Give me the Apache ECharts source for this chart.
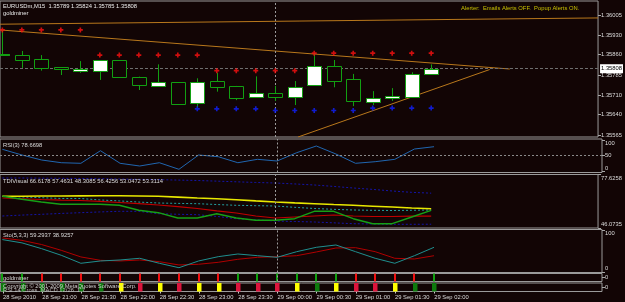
<!DOCTYPE html>
<html><head><meta charset="utf-8">
<script src="https://cdn.jsdelivr.net/npm/echarts@6/dist/echarts.min.js"></script>
<style>html,body{margin:0;padding:0;background:#120505;}#c{width:625px;height:302px;}</style>
</head><body><div id="c"></div>
<script>
// ---------- data ----------
const candleTimes = ['28 Sep 20:30','28 Sep 20:45','28 Sep 21:00','28 Sep 21:15','28 Sep 21:30','28 Sep 21:45','28 Sep 22:00','28 Sep 22:15','28 Sep 22:30','28 Sep 22:45','28 Sep 23:00','28 Sep 23:15','28 Sep 23:30','28 Sep 23:45','29 Sep 00:00','29 Sep 00:15','29 Sep 00:30','29 Sep 00:45','29 Sep 01:00','29 Sep 01:15','29 Sep 01:30','29 Sep 01:45','29 Sep 02:00'];
const timeTickIdx = [0,2,4,6,8,10,12,14,16,18,20,22];
const timeTickLabels = ['28 Sep 2010','28 Sep 21:00','28 Sep 21:30','28 Sep 22:00','28 Sep 22:30','28 Sep 23:00','28 Sep 23:30','29 Sep 00:00','29 Sep 00:30','29 Sep 01:00','29 Sep 01:30','29 Sep 02:00'];

const open  = [1.35860,1.35858,1.35844,1.35814,1.35800,1.35800,1.35839,1.35779,1.35746,1.35758,1.35681,1.35762,1.35745,1.35703,1.35718,1.35703,1.35747,1.35819,1.35770,1.35687,1.35702,1.35705,1.35789];
const high  = [1.35950,1.35873,1.35858,1.35814,1.35836,1.35840,1.35840,1.35779,1.35824,1.35758,1.35773,1.35793,1.35745,1.35780,1.35745,1.35763,1.35865,1.35840,1.35789,1.35726,1.35737,1.35795,1.35824];
const low   = [1.35858,1.35811,1.35801,1.35785,1.35793,1.35767,1.35774,1.35730,1.35746,1.35679,1.35668,1.35724,1.35693,1.35703,1.35690,1.35675,1.35747,1.35740,1.35671,1.35675,1.35690,1.35703,1.35785];
const close = [1.35862,1.35840,1.35811,1.35806,1.35807,1.35839,1.35777,1.35747,1.35758,1.35679,1.35758,1.35740,1.35701,1.35718,1.35703,1.35742,1.35817,1.35764,1.35689,1.35702,1.35709,1.35789,1.35808];

const upperDots = [1.35950,1.35950,1.35950,1.35950,1.35950,1.35858,1.35858,1.35858,1.35858,1.35858,1.35858,1.35801,1.35801,1.35801,1.35801,1.35801,1.35865,1.35865,1.35865,1.35865,1.35865,1.35865,1.35865];
const lowerDots = [null,null,null,null,null,null,null,null,null,null,1.35661,1.35661,1.35661,1.35661,1.35655,1.35655,1.35655,1.35655,1.35655,1.35664,1.35664,1.35664,1.35664];

const trendA = [[-0.121,1.35971],[30.56,1.35994]];
const trendB = [[-0.121,1.35950],[26.03,1.35807]];
const trendC = [[15.17,1.35558],[25.0,1.35805]];
const currentPrice = 1.35808;
const priceTicks = [1.36005,1.35930,1.35860,1.35785,1.35710,1.35640,1.35565];

const rsi = [70.4,52.2,36.3,27.7,25.8,65.9,25.8,17.2,27.7,6.7,52.2,46.8,27.7,38.5,33.1,59.6,80.9,55.4,25.8,30.9,38.5,71.3,78.67];

const tdiUpper  = [75.56,75.56,75.46,75.37,75.27,75.15,74.97,74.78,74.59,74.34,74.09,73.71,73.32,72.93,72.61,72.06,71.44,70.60,69.67,68.85,67.90,67.10,66.62];
const tdiYellow = [64.77,64.82,64.92,64.94,65.01,65.06,65.12,64.96,64.77,64.28,63.77,63.31,62.77,62.05,61.41,60.88,60.41,59.91,59.46,58.94,58.46,57.85,57.46];
const tdiCyan   = [64.77,64.38,63.94,63.51,63.48,62.63,62.05,61.37,60.81,60.59,60.41,59.91,59.46,59.23,59.05,58.26,57.58,57.09,56.69,56.51,56.39,56.51,56.70];
const tdiRed    = [63.77,63.31,62.88,62.53,62.29,61.76,61.12,60.40,59.64,58.65,57.58,56.12,54.92,53.15,51.97,52.56,53.15,53.74,53.15,52.85,52.85,53.10,53.05];
const tdiGreen  = [64.77,63.00,61.41,60.06,60.06,60.06,59.46,56.52,55.10,51.97,51.97,54.50,51.97,50.62,50.62,51.56,55.92,55.92,51.56,48.61,48.61,52.56,56.43];
const tdiLower  = [53.15,53.69,54.15,54.66,55.10,55.54,55.92,55.92,54.50,54.17,53.92,52.91,51.56,50.87,50.20,49.90,49.62,49.12,48.61,48.44,48.26,48.26,48.31];
const tdiMax = 77.6258, tdiMin = 46.0735;

const stoMain   = [78.0,70.0,56.0,40.0,20.6,26.2,28.6,32.7,20.6,9.9,26.2,36.6,43.1,39.0,35.1,48.7,59.3,64.9,48.7,32.7,20.6,39.0,59.29];
const stoSignal = [82.0,76.0,66.0,52.0,36.0,27.8,26.2,28.6,24.5,16.5,18.2,23.0,30.3,35.1,36.6,39.0,48.0,57.6,58.4,48.7,32.7,31.0,38.93];

const goldSignal = [1,1,-1,-1,-1,-1,-1,-1,-1,-1,-1,-1,1,1,1,1,1,1,-1,-1,-1,-1,1];
const panel2Code = [0,0,0,0,0,0,1,2,1,2,1,1,2,2,2,1,0,1,2,2,1,0,0];

// ---------- chart ----------
const BG = '#120505';
const XMIN = -0.121, XMAX = 30.56;
const FONT = 'Liberation Sans';
const FS = 5.8;
const TXT = '#dcdcdc';
const idx = candleTimes.map((t,i)=>i);
const pairs = arr => arr.map((v,i)=>[i,v]);

const gridBase = {show:true,borderColor:'#9a9a9a',borderWidth:1,backgroundColor:'transparent',left:0,right:23};
const grids = [
  {top:1,height:136},
  {top:139,height:33.5},
  {top:174.5,height:53.5},
  {top:229.5,height:43},
  {top:273.5,height:8},
  {top:283,height:8.5}
].map(g=>Object.assign({},gridBase,g));

const xAxes = grids.map((g,i)=>({
  type:'value', gridIndex:i, min:XMIN, max:XMAX, position:'bottom',
  axisLine:{show:false, onZero:false}, splitLine:{show:false},
  axisTick: i===5 ? {show:true, customValues:timeTickIdx, length:2, lineStyle:{color:'#c8c8c8'}} : {show:false},
  axisLabel: i===5 ? {show:true, customValues:timeTickIdx, align:'left', margin:3, color:TXT, fontSize:FS, fontFamily:FONT,
     formatter:v=>timeTickLabels[timeTickIdx.indexOf(Math.round(v))] || ''} : {show:false}
}));

function yAx(i,min,max,vals,fmt,rich){
  return {type:'value', gridIndex:i, position:'right', min:min, max:max, scale:true,
    axisLine:{show:false, onZero:false}, splitLine:{show:false},
    axisTick:{show:true, customValues:vals, length:3, lineStyle:{color:'#a8a8a8'}},
    axisLabel:{show:true, customValues:vals, margin:3, color:TXT, fontSize:FS, fontFamily:FONT, formatter:fmt, rich:rich||{}}};
}
const shiftRich = {
  dn:{padding:[6,0,0,0], color:TXT, fontSize:FS, fontFamily:FONT},
  up:{padding:[0,0,7,0], color:TXT, fontSize:FS, fontFamily:FONT}
};
const yAxes = [
  yAx(0,1.35558,1.36056,priceTicks,v=>v.toFixed(5)),
  yAx(1,-3.5,103.2,[100,50,0],v=>v===100?'{dn|100}':(v===0?'{up|0}':String(v)),shiftRich),
  yAx(2,tdiMin,tdiMax,[tdiMax,tdiMin],v=>Math.abs(v-tdiMax)<1e-6?'{dn|'+tdiMax.toFixed(4)+'}':'{up|'+tdiMin.toFixed(4)+'}',{
    dn:{padding:[8,0,0,0], color:TXT, fontSize:FS, fontFamily:FONT}, up:{padding:[0,0,8,0], color:TXT, fontSize:FS, fontFamily:FONT}}),
  yAx(3,-1.7,102.4,[100,0],v=>v===100?'{dn|100}':'{up|0}',shiftRich),
  yAx(4,-1,1,[0],v=>'0'),
  yAx(5,-1,1,[0],v=>'0')
];

const vLine = {xAxis:14, lineStyle:{color:'#9a9a9a', type:[2,2], width:1}, label:{show:false}};
const plusSym = 'path://M2,0h2v2h2v2h-2v2h-2v-2h-2v-2h2z';
const GREEN = '#12a012';

function lineS(i,data,color,opts){
  return Object.assign({type:'line', xAxisIndex:i, yAxisIndex:i, data:data, showSymbol:false, symbol:'none',
    lineStyle:{color:color, width:1}, silent:true, animation:false, z:3}, opts||{});
}

const series = [
  lineS(0,trendA,'#b9781c',{markLine:{symbol:'none', silent:true, animation:false, precision:5, data:[
     {yAxis:currentPrice, lineStyle:{color:'#6e6e6e', type:[3,2], width:1},
      label:{show:true, position:'end', distance:2, formatter:currentPrice.toFixed(5), color:'#000', backgroundColor:'#ffffff', padding:[2,1,1,1], fontSize:FS, fontFamily:FONT}},
     vLine]}}),
  lineS(0,trendB,'#b9781c'),
  lineS(0,trendC,'#b9781c'),
  {type:'custom', xAxisIndex:0, yAxisIndex:0, z:5, animation:false, silent:true,
   data: idx.map(i=>[i,open[i],high[i],low[i],close[i]]),
   renderItem:function(params,api){
     const x=api.value(0), o=api.value(1), h=api.value(2), l=api.value(3), c=api.value(4);
     const pO=api.coord([x,o]), pC=api.coord([x,c]), pH=api.coord([x,h]), pL=api.coord([x,l]);
     const w=Math.round(api.size([1,0])[0]*0.715);
     const cx=Math.round(pO[0])+0.5;
     const top=Math.round(Math.min(pO[1],pC[1]))+0.5, bot=Math.round(Math.max(pO[1],pC[1]))+0.5;
     const bull=c>=o;
     return {type:'group', children:[
       {type:'line', shape:{x1:cx,y1:pH[1],x2:cx,y2:top}, style:{stroke:GREEN,lineWidth:1}},
       {type:'line', shape:{x1:cx,y1:bot,x2:cx,y2:pL[1]}, style:{stroke:GREEN,lineWidth:1}},
       {type:'rect', shape:{x:cx-w/2,y:top,width:w,height:Math.max(bot-top,1)}, style:{fill:bull?'#ffffff':BG, stroke:GREEN, lineWidth:1}}
     ]};
   }},
  {type:'scatter', xAxisIndex:0, yAxisIndex:0, data:pairs(upperDots), symbol:plusSym, symbolSize:5, itemStyle:{color:'#ff1010'}, silent:true, animation:false, z:6},
  {type:'scatter', xAxisIndex:0, yAxisIndex:0, data:pairs(lowerDots).filter(p=>p[1]!=null), symbol:plusSym, symbolSize:5, itemStyle:{color:'#1020ff'}, silent:true, animation:false, z:6},

  lineS(1,pairs(rsi),'#2066b0',{markLine:{symbol:'none', silent:true, animation:false, data:[
     {yAxis:50, lineStyle:{color:'#8a8a8a', type:[2,2], width:1}, label:{show:false}}, vLine]}}),

  lineS(2,pairs(tdiUpper),'#1414a8',{lineStyle:{color:'#1414a8',width:1,type:[2,2]}, markLine:{symbol:'none',silent:true,animation:false,data:[vLine]}}),
  lineS(2,pairs(tdiLower),'#1414a8',{lineStyle:{color:'#1414a8',width:1,type:[2,2]}}),
  lineS(2,pairs(tdiCyan),'#22a0a0',{lineStyle:{color:'#22a0a0',width:1,type:[2,2]}}),
  lineS(2,pairs(tdiYellow),'#e8e800',{lineStyle:{color:'#e8e800',width:1.6}}),
  lineS(2,pairs(tdiRed),'#c00000',{lineStyle:{color:'#c00000',width:1.2}}),
  lineS(2,pairs(tdiGreen),'#16a016',{lineStyle:{color:'#16a016',width:1.4}}),

  lineS(3,pairs(stoSignal),'#b00000',{markLine:{symbol:'none',silent:true,animation:false,data:[vLine]}}),
  lineS(3,pairs(stoMain),'#1f8f8f'),

  {type:'custom', xAxisIndex:4, yAxisIndex:4, animation:false, silent:true, data:pairs(goldSignal),
   markLine:{symbol:'none',silent:true,animation:false,data:[vLine]},
   renderItem:function(params,api){
     const x=api.value(0), v=api.value(1);
     const t=api.coord([x,1]), b=api.coord([x,-1]);
     return {type:'rect', shape:{x:Math.round(t[0])-1,y:t[1],width:2,height:b[1]-t[1]}, style:{fill:v>0?'#10a010':'#f01010'}};
   }},
  {type:'custom', xAxisIndex:5, yAxisIndex:5, animation:false, silent:true, data:pairs(panel2Code),
   renderItem:function(params,api){
     const x=api.value(0), v=api.value(1);
     const t=api.coord([x,1]), b=api.coord([x,-1]);
     const col=['#0e7a0e','#ffff00','#dc143c'][v];
     return {type:'rect', shape:{x:Math.round(t[0])-2,y:t[1],width:4.5,height:b[1]-t[1]}, style:{fill:col}};
   }}
];

function txt(x,y,s,color){
  return {type:'text', x:x, y:y, silent:true, z:100,
    style:{text:s, fill:color||TXT, fontSize:FS, fontFamily:FONT, verticalAlign:'middle', align:'left'}};
}
const graphic = [
  txt(3,6,'EURUSDm,M15  1.35789 1.35824 1.35785 1.35808','#ececec'),
  txt(3,13,'goldminer','#ececec'),
  txt(461,8,'Alerter:  Emails Alerts OFF.  Popup Alerts ON.','#c8c000'),
  txt(3,145,'RSI(3) 78.6698'),
  txt(3,181,'TDIVisual 66.6178 57.4631 48.3085 56.4256 53.0472 53.3114'),
  txt(3,235,'Sto(5,3,3) 59.2937 38.9257'),
  txt(3,278,'goldminer'),
  txt(3,286,'Copyright © 2001-2009 MetaQuotes Software Corp.','#cfcfcf'),
  txt(3,290,'RSI 14 Cross  MACD 12/26  1.7','#bdbdbd')
];

const chart = echarts.init(document.getElementById('c'), null, {renderer:'canvas', width:625, height:302});
chart.setOption({
  backgroundColor: BG,
  animation:false,
  grid: grids, xAxis: xAxes, yAxis: yAxes, series: series, graphic: graphic
});
</script>
</body></html>
